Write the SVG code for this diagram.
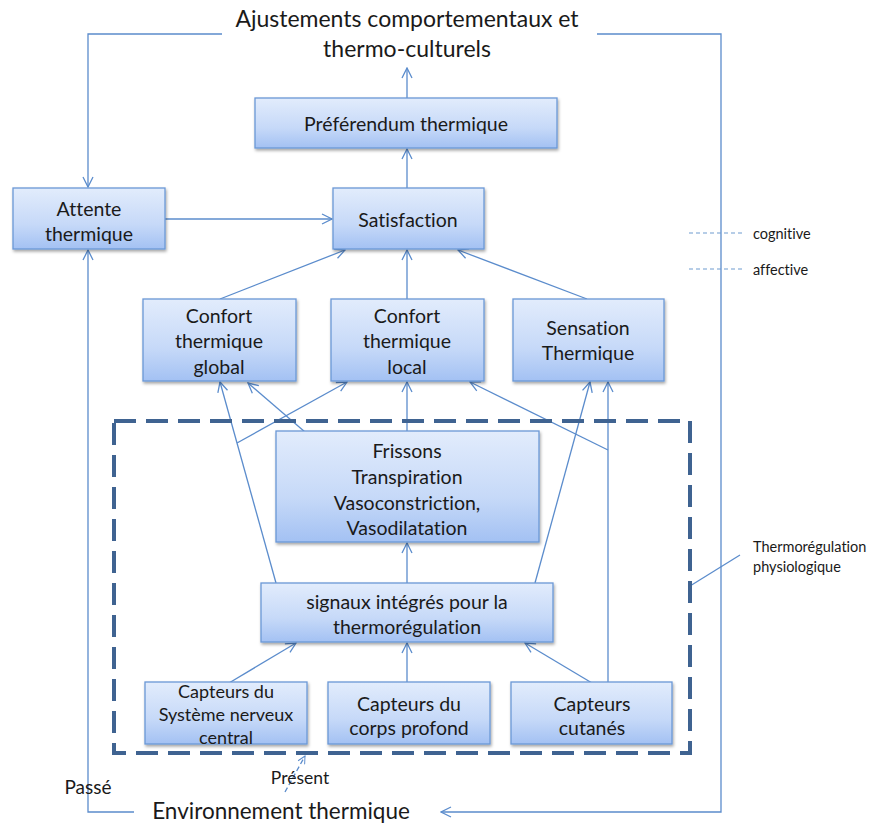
<svg xmlns="http://www.w3.org/2000/svg" width="870" height="825" viewBox="0 0 870 825">
<defs>
<linearGradient id="bg" x1="0" y1="0" x2="0" y2="1">
<stop offset="0" stop-color="#e2ecfc"/>
<stop offset="0.6" stop-color="#c6d9f8"/>
<stop offset="1" stop-color="#a3c1f3"/>
</linearGradient>
<filter id="sh" x="-10%" y="-10%" width="120%" height="130%">
<feDropShadow dx="1" dy="2" stdDeviation="1.5" flood-color="#000" flood-opacity="0.35"/>
</filter>
<marker id="arr" viewBox="0 0 12 12" refX="11" refY="6" markerWidth="12" markerHeight="12" orient="auto" markerUnits="userSpaceOnUse">
<path d="M1,1 L11,6 L1,11" fill="none" stroke="#5b8ccc" stroke-width="1.3"/>
</marker>
<marker id="arrs" viewBox="0 0 12 12" refX="11" refY="6" markerWidth="9" markerHeight="9" orient="auto" markerUnits="userSpaceOnUse">
<path d="M1,1 L11,6 L1,11" fill="none" stroke="#5b8ccc" stroke-width="1.3"/>
</marker>
</defs>
<style>
.box{fill:url(#bg);stroke:#6a98d6;stroke-width:1.3;filter:url(#sh)}
.t{font-family:Lato,"Liberation Sans",sans-serif;fill:#1a1a1a;text-anchor:middle;dominant-baseline:central;font-variant-ligatures:none}
.b{font-size:19.5px}
.s{font-size:18px}
.big{font-size:23px}
.sm{font-size:14.5px;text-anchor:start}
.c{fill:none;stroke:#5b8ccc;stroke-width:1.3}
.a{marker-end:url(#arr)}
.leg{fill:none;stroke:#6f9bd0;stroke-width:1.2;stroke-dasharray:4 3}
</style>
<rect width="870" height="825" fill="#fff"/>

<g id="connectors">
<path class="c a" d="M407,98 V68"/>
<path class="c a" d="M407,188 V149"/>
<path class="c a" d="M165,219 H332"/>
<path class="c a" d="M220,299 L345,250"/>
<path class="c a" d="M407,299 V250"/>
<path class="c a" d="M587,299 L458,250"/>
<path class="c a" d="M276,583 L220,382"/>
<path class="c a" d="M237,443 L347,382"/>
<path class="c a" d="M305,432 L248,383"/>
<path class="c a" d="M407,431 V382"/>
<path class="c a" d="M608,450 L470,382"/>
<path class="c a" d="M535,583 L590,382"/>
<path class="c a" d="M608,683 V382"/>
<path class="c a" d="M407,583 V543"/>
<path class="c a" d="M229,683 L296,643"/>
<path class="c a" d="M407,683 V643"/>
<path class="c a" d="M592,683 L525,643"/>
<path class="c a" d="M222,34 H88 V187"/>
<path class="c a" d="M597,34 H721 V812 H441"/>
<path class="c a" d="M134,812 H88 V250"/>
<path class="c" d="M285,792 L305,756" stroke-dasharray="5 3" marker-end="url(#arrs)"/>
<path class="c" d="M690,586 L740,555"/>
<path class="leg" d="M689,233 H742"/>
<path class="leg" d="M689,269 H742"/>
</g>

<g id="thermoregulation-zone">
<rect x="114" y="421" width="576" height="332" fill="none" stroke="#3f6391" stroke-width="4" stroke-dasharray="22 10"/>
</g>

<g id="title">
<text class="t big" x="407" y="18">Ajustements comportementaux et</text>
<text class="t big" x="407" y="48">thermo-culturels</text>
</g>

<g id="preferendum">
<rect class="box" x="255" y="98" width="302" height="50"/>
<text class="t b" x="406" y="123">Préférendum thermique</text>
</g>

<g id="satisfaction">
<rect class="box" x="333" y="188" width="151" height="61"/>
<text class="t b" x="408" y="219">Satisfaction</text>
</g>

<g id="attente">
<rect class="box" x="13" y="188" width="152" height="61"/>
<text class="t b" x="89" y="208">Attente</text>
<text class="t b" x="89" y="233">thermique</text>
</g>

<g id="confort-global">
<rect class="box" x="143" y="299" width="153" height="82"/>
<text class="t b" x="219" y="315">Confort</text>
<text class="t b" x="219" y="340">thermique</text>
<text class="t b" x="219" y="366">global</text>
</g>

<g id="confort-local">
<rect class="box" x="331" y="299" width="153" height="82"/>
<text class="t b" x="407" y="315">Confort</text>
<text class="t b" x="407" y="340">thermique</text>
<text class="t b" x="407" y="366">local</text>
</g>

<g id="sensation">
<rect class="box" x="513" y="299" width="151" height="82"/>
<text class="t b" x="588" y="327">Sensation</text>
<text class="t b" x="588" y="352">Thermique</text>
</g>

<g id="frissons">
<rect class="box" x="276" y="431" width="263" height="111"/>
<text class="t b" x="407" y="450">Frissons</text>
<text class="t b" x="407" y="476">Transpiration</text>
<text class="t b" x="407" y="502">Vasoconstriction,</text>
<text class="t b" x="407" y="527">Vasodilatation</text>
</g>

<g id="signaux">
<rect class="box" x="261" y="583" width="292" height="59"/>
<text class="t b" x="407" y="601">signaux intégrés pour la</text>
<text class="t b" x="407" y="626">thermorégulation</text>
</g>

<g id="capteurs-snc">
<rect class="box" x="145" y="682" width="162" height="62"/>
<text class="t s" x="226" y="691">Capteurs du</text>
<text class="t s" x="226" y="714">Système nerveux</text>
<text class="t s" x="226" y="737">central</text>
</g>

<g id="capteurs-corps">
<rect class="box" x="328" y="682" width="162" height="62"/>
<text class="t b" x="409" y="703">Capteurs du</text>
<text class="t b" x="409" y="727">corps profond</text>
</g>

<g id="capteurs-cutanes">
<rect class="box" x="511" y="682" width="161" height="62"/>
<text class="t b" x="592" y="703">Capteurs</text>
<text class="t b" x="592" y="727">cutanés</text>
</g>

<g id="labels">
<text class="t sm" x="753" y="233">cognitive</text>
<text class="t sm" x="753" y="269">affective</text>
<text class="t sm" x="753" y="546">Thermorégulation</text>
<text class="t sm" x="753" y="566">physiologique</text>
<text class="t" x="88" y="786" font-size="19">Passé</text>
<text class="t" x="300" y="777" font-size="17.5">Présent</text>
<text class="t" x="281" y="810" font-size="22.5">Environnement thermique</text>
</g>
</svg>
